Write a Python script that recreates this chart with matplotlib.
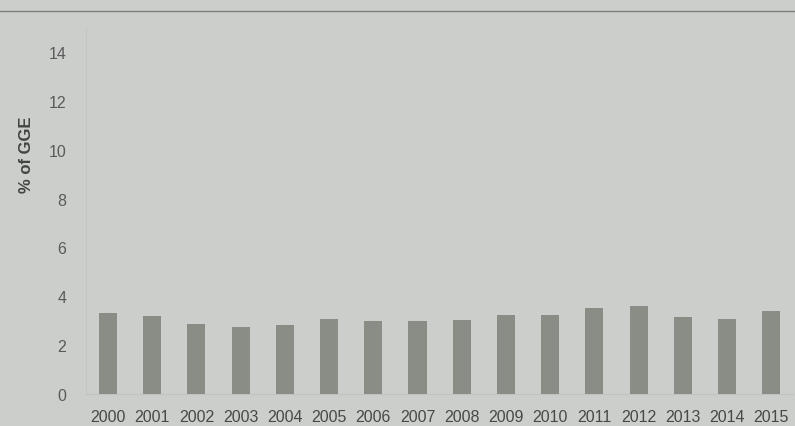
import matplotlib
matplotlib.use("Agg")
import matplotlib.pyplot as plt
from matplotlib.lines import Line2D

years = ["2000", "2001", "2002", "2003", "2004", "2005", "2006", "2007",
         "2008", "2009", "2010", "2011", "2012", "2013", "2014", "2015"]
values = [3.32, 3.2, 2.87, 2.76, 2.84, 3.05, 3.0, 3.0,
          3.03, 3.24, 3.24, 3.54, 3.6, 3.16, 3.05, 3.4]
yticks = [0, 2, 4, 6, 8, 10, 12, 14]

plt.rcParams['font.family'] = ['Liberation Sans', 'DejaVu Sans']

bg = "#cbcecb"
fig = plt.figure(figsize=(7.95, 4.27), dpi=100, facecolor=bg)
ax = fig.add_axes([0.108, 0.075, 0.89, 0.858], facecolor=bg)

x = list(range(len(years)))
ax.bar(x, values, width=0.41, color="#8a8c86", zorder=3)

ax.set_xlim(-0.5, len(years) - 0.5)
ax.set_ylim(0, 15)
ax.set_xticks(x)
ax.set_xticklabels(years, fontsize=11.5, color="#484848")
ax.set_yticks(yticks)
ax.set_yticklabels([str(t) for t in yticks], fontsize=11.5, color="#5a5a5a")
ax.tick_params(axis="x", length=0, pad=11)
ax.tick_params(axis="y", length=0, pad=14)

for s in ["top", "right"]:
    ax.spines[s].set_visible(False)
ax.spines["left"].set_color("#c2c5c2")
ax.spines["bottom"].set_color("#c0c3c0")

ax.set_ylabel("% of GGE", fontsize=12, fontweight="bold", color="#444444")
ax.yaxis.set_label_coords(-0.074, 0.655)

fig.add_artist(Line2D([0, 1], [1 - 12 / 427, 1 - 12 / 427], transform=fig.transFigure,
                      color="#7a7d7a", linewidth=1.0))

fig.savefig("out.png", dpi=100, facecolor=bg)
